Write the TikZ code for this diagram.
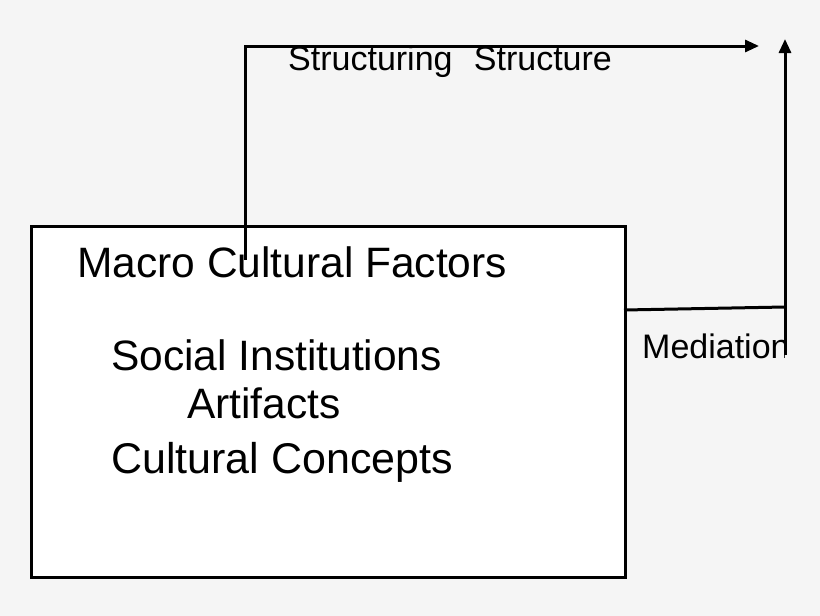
\documentclass[tikz,border=0pt]{standalone}
\usepackage{fontspec}
\setmainfont{Liberation Sans}
\usetikzlibrary{arrows.meta}
\definecolor{bgc}{HTML}{F5F5F5}
\tikzset{
  lbl/.style={inner sep=0pt, anchor=base west, text=black},
  big/.style={lbl, font=\fontsize{42.5}{50}\selectfont},
  bigw/.style={lbl, font=\fontsize{43}{50}\selectfont},
  mid/.style={lbl, font=\fontsize{34}{40}\selectfont},
  conn/.style={line width=3pt, draw=black},
  arr/.style={conn, -{Triangle[length=14pt,width=12pt]}},
  mainbox/.style={draw=black, line width=2.6pt, fill=white, inner sep=0pt, anchor=north west, minimum width=594pt, minimum height=351pt}
}
\begin{document}
\begin{tikzpicture}[x=1pt,y=-1pt]
\fill[bgc] (0,0) rectangle (820,616);
\useasboundingbox (0,0) rectangle (820,616);
\node[mainbox] (box) at (30,225) {};
\node[big] (macro) at (77,277) {Macro Cultural Factors};
\node[big] (social) at (111,370) {Social Institutions};
\node[big] (artif) at (187,418) {Artifacts};
\node[bigw] (concepts) at (111,473) {Cultural Concepts};
\node[mid] (struct) at (288,70) {Structuring\hspace{0.35em} Structure};
\begin{scope}
\clip (600,300) rectangle (784,380);
\node[mid] (med) at (642,358) {Mediation};
\end{scope}
\coordinate (a) at (245,260);
\coordinate (b) at (245,46);
\coordinate (c) at (759,46);
\coordinate (d) at (785,355);
\coordinate (e) at (785,39);
\coordinate (m1) at (624,310);
\coordinate (m2) at (785,307);
\draw[arr] (a) -- (b) -- (c);
\draw[conn] (m1) -- (m2);
\draw[arr] (d) -- (e);
\end{tikzpicture}
\end{document}
